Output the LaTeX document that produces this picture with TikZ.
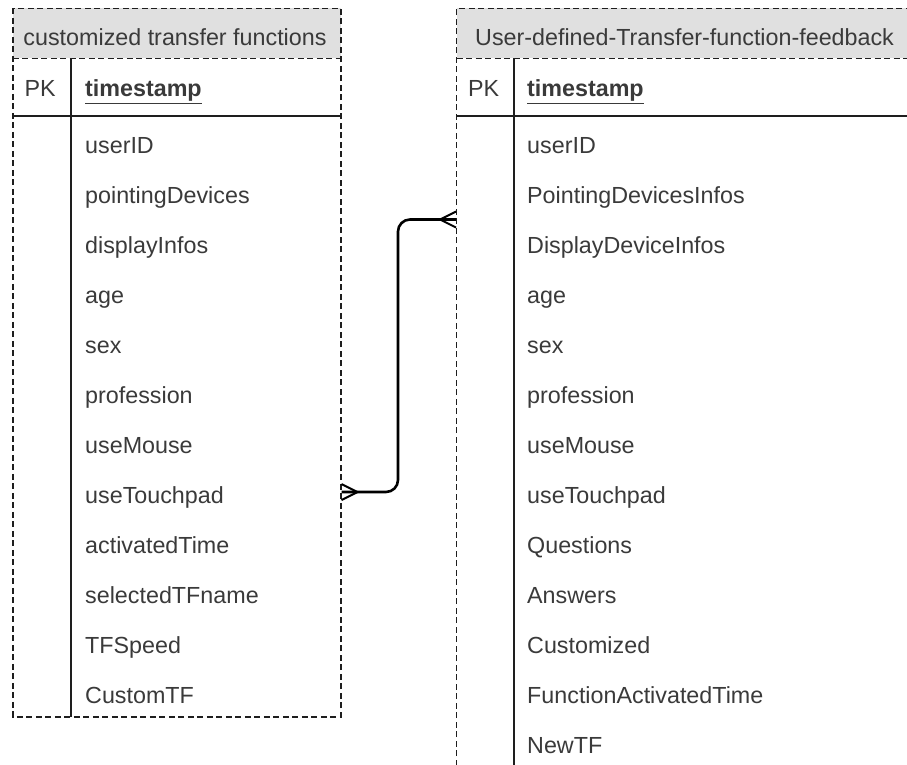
\documentclass[tikz,border=0pt]{standalone}
\usepackage{fontspec}
\setmainfont{Liberation Sans}
\usetikzlibrary{calc}
\definecolor{txt}{RGB}{58,58,58}
\definecolor{hdrfill}{RGB}{224,224,224}
\definecolor{edge}{RGB}{30,30,30}
\tikzset{
  dashbox/.style={draw=edge, line width=1.6pt, dash pattern=on 6pt off 3.5pt},
  solidline/.style={draw=edge, line width=1.8pt},
  lbl/.style={inner sep=0pt, anchor=base west, text=txt, font=\fontsize{23.3}{27}\selectfont},
  hlbl/.style={inner sep=0pt, anchor=base, text=txt, font=\fontsize{23.3}{27}\selectfont},
  conn/.style={draw=black, line width=2.6pt},
  prong/.style={draw=black, line width=2pt}
}
\begin{document}
\begin{tikzpicture}[x=1pt,y=-1pt]
\useasboundingbox (0,0) rectangle (907,764);
\begin{scope}
\clip (0,0) rectangle (907,764);
% ---- left table ----
\fill[hdrfill] (12.7,8.3) rectangle (340.7,58.3);
\draw[dashbox] (12.7,8.3) rectangle (340.7,716.7);
\draw[dashbox] (12.7,58.3) -- (340.7,58.3);
\draw[solidline] (12.7,115.7) -- (340.7,115.7);
\draw[solidline] (71,58.3) -- (71,716.7);
\node[hlbl] (lt) at (175,45) {customized transfer functions};
\node[lbl] (lpk) at (24.5,96.8) {PK};
\node[lbl] (lts) at (85,96.8) {\textbf{\underline{timestamp}}};
\foreach \t [count=\i from 0] in {userID,pointingDevices,displayInfos,age,sex,profession,useMouse,useTouchpad,activatedTime,selectedTFname,TFSpeed,CustomTF}
  \node[lbl] (lf\i) at (85,153+50*\i) {\t};
% ---- right table ----
\fill[hdrfill] (456.5,8.3) rectangle (916,58.3);
\draw[dashbox] (916,800) -- (456.5,800) -- (456.5,8.3) -- (916,8.3) -- (916,800);
\draw[dashbox] (456.5,58.3) -- (916,58.3);
\draw[solidline] (456.5,115.7) -- (916,115.7);
\draw[solidline] (514,58.3) -- (514,800);
\node[lbl] (rt) at (475,45) {User-defined-Transfer-function-feedback};
\node[lbl] (rpk) at (468,96.8) {PK};
\node[lbl] (rts) at (527,96.8) {\textbf{\underline{timestamp}}};
\foreach \t [count=\i from 0] in {userID,PointingDevicesInfos,DisplayDeviceInfos,age,sex,profession,useMouse,useTouchpad,Questions,Answers,Customized,FunctionActivatedTime,NewTF}
  \node[lbl] (rf\i) at (527,153+50*\i) {\t};
\end{scope}
% ---- connector ----
\coordinate (L) at (341.5,492);
\coordinate (R) at (456,219.5);
\coordinate (V) at (398,350);
\draw[conn, rounded corners=12pt] (L) -- (L -| V) -- (R -| V) -- (R);
\draw[prong] ($(L)+(16,0)$) -- ($(L)+(0,-8)$);
\draw[prong] ($(L)+(16,0)$) -- ($(L)+(0,8)$);
\draw[prong] ($(R)+(-16,0)$) -- ($(R)+(0,-8)$);
\draw[prong] ($(R)+(-16,0)$) -- ($(R)+(0,8)$);
\end{tikzpicture}
\end{document}
